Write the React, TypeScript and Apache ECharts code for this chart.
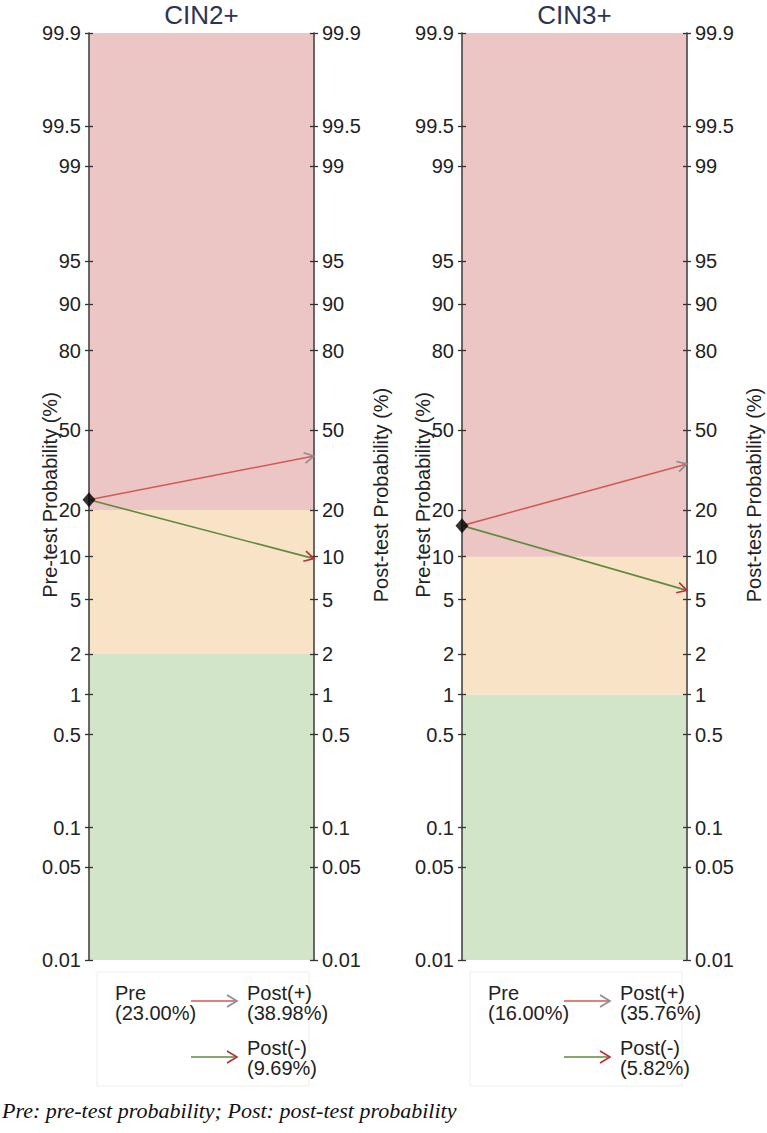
import React, { useEffect, useRef } from "react";
import * as echarts from "echarts";

// ---- data ----
const panelTitles = ["CIN2+", "CIN3+"];
const preProb = [23.0, 16.0];
const postPosProb = [38.98, 35.76];
const postNegProb = [9.69, 5.82];
const redBandFrom = [20, 10];
const greenBandTo = [2, 1];
const tickLabels = ["0.01", "0.05", "0.1", "0.5", "1", "2", "5", "10", "20", "50", "80", "90", "95", "99", "99.5", "99.9"];
const tickProbs = [0.01, 0.05, 0.1, 0.5, 1, 2, 5, 10, 20, 50, 80, 90, 95, 99, 99.5, 99.9];
const axisMinProb = 0.01;
const axisMaxProb = 99.9;

const logit = (p: number) => Math.log(p / (100 - p));
const tickVals = tickProbs.map(logit);
const yMin = logit(axisMinProb);
const yMax = logit(axisMaxProb);

const gridsPx = [
  { left: 89, width: 225 },
  { left: 462, width: 225 },
];
const TOP = 33;
const HEIGHT = 927;

const FONT = "Liberation Sans";
const bandColors = ["#d3e5c8", "#f9e3c6", "#ecc5c5"];
const redLine = "#d25a55";
const greenLine = "#5f8a3e";
const greyHead = "#8c8c8c";
const redHead = "#b3303c";

const fmt = (v: number) => {
  for (let i = 0; i < tickVals.length; i++) {
    if (Math.abs(tickVals[i] - v) < 1e-6) return `{t|${tickLabels[i]}}`;
  }
  return "";
};

function makeYAxes(gi: number) {
  const base = {
    type: "value",
    gridIndex: gi,
    min: yMin,
    max: yMax,
    z: 5,
    splitLine: { show: false },
  };
  const axes: any[] = [];
  for (const pos of ["left", "right"]) {
    axes.push({
      ...base,
      position: pos,
      axisLine: { show: true, lineStyle: { color: "#454545", width: 1.6 } },
      axisTick: { show: true, inside: false, length: 4, customValues: tickVals, lineStyle: { color: "#333", width: 1.3 } },
      axisLabel: {
        show: true,
        customValues: tickVals,
        formatter: fmt,
        margin: 8,
        fontSize: 20,
        fontFamily: FONT,
        color: "#222",
        rich: { t: { fontSize: 20, fontFamily: FONT, color: "#222" } },
      },
    });
    axes.push({
      ...base,
      position: pos,
      axisLine: { show: false },
      axisTick: { show: true, inside: true, length: 4, customValues: tickVals, lineStyle: { color: "#333", width: 1.3 } },
      axisLabel: { show: false, customValues: tickVals },
    });
  }
  return axes;
}

function arrowSeries(gi: number, from: number, to: number, lineColor: string, headColor: string) {
  return {
    type: "custom",
    xAxisIndex: gi,
    yAxisIndex: gi * 4,
    z: 6,
    clip: false,
    silent: true,
    encode: { x: [0, 2], y: [1, 3] },
    data: [[0, logit(from), 1, logit(to)]],
    renderItem: (params: any, api: any) => {
      const p0 = api.coord([api.value(0), api.value(1)]);
      const p1 = api.coord([api.value(2), api.value(3)]);
      const ang = Math.atan2(p1[1] - p0[1], p1[0] - p0[0]);
      const L = 11;
      const a = 0.5;
      const h1 = [p1[0] - L * Math.cos(ang - a), p1[1] - L * Math.sin(ang - a)];
      const h2 = [p1[0] - L * Math.cos(ang + a), p1[1] - L * Math.sin(ang + a)];
      return {
        type: "group",
        children: [
          { type: "line", shape: { x1: p0[0], y1: p0[1], x2: p1[0], y2: p1[1] }, style: { stroke: lineColor, lineWidth: 1.6 } },
          { type: "polyline", shape: { points: [h1, p1, h2] }, style: { stroke: headColor, lineWidth: 1.6, fill: null } },
        ],
      };
    },
  };
}

function bandSeries(gi: number) {
  const lo = logit(greenBandTo[gi]);
  const hi = logit(redBandFrom[gi]);
  return {
    type: "custom",
    xAxisIndex: gi,
    yAxisIndex: gi * 4,
    z: 1,
    silent: true,
    encode: { x: 0, y: [1, 2] },
    data: [
      [0, yMin, lo, 0],
      [0, lo, hi, 1],
      [0, hi, yMax, 2],
    ],
    renderItem: (params: any, api: any) => {
      const a = api.coord([0, api.value(2)]);
      const b = api.coord([1, api.value(1)]);
      return {
        type: "rect",
        shape: { x: a[0], y: a[1], width: b[0] - a[0], height: b[1] - a[1] },
        style: { fill: bandColors[api.value(3)] },
      };
    },
  };
}

function legendGraphics(gi: number) {
  const g = gridsPx[gi];
  const bx = g.left + 8;
  const lx = g.left + 26;
  const ax0 = g.left + 102;
  const ax1 = g.left + 148;
  const tx = g.left + 158;
  const els: any[] = [];
  els.push({ type: "rect", shape: { x: bx, y: 972, width: 212, height: 114 }, style: { fill: null, stroke: "#eeeeee", lineWidth: 1 } });
  const txt = (x: number, y: number, s: string) => ({
    type: "text",
    x,
    y,
    style: { text: s, fontSize: 20, fontFamily: FONT, fill: "#222", lineHeight: 20, verticalAlign: "top" },
  });
  els.push(txt(lx, 983, `Pre\n(${preProb[gi].toFixed(2)}%)`));
  els.push(txt(tx, 983, `Post(+)\n(${postPosProb[gi].toFixed(2)}%)`));
  els.push(txt(tx, 1038, `Post(-)\n(${postNegProb[gi].toFixed(2)}%)`));
  const arrow = (y: number, lc: string, hc: string) => {
    els.push({ type: "line", shape: { x1: ax0, y1: y, x2: ax1, y2: y }, style: { stroke: lc, lineWidth: 1.6 } });
    els.push({ type: "polyline", shape: { points: [[ax1 - 10, y - 6], [ax1, y], [ax1 - 10, y + 6]] }, style: { stroke: hc, lineWidth: 1.6, fill: null } });
  };
  arrow(1001, redLine, greyHead);
  arrow(1057, greenLine, redHead);
  return els;
}

function nameText(x: number, y: number, s: string) {
  return {
    type: "text",
    x,
    y,
    rotation: Math.PI / 2,
    style: { text: s, fontSize: 20, fontFamily: FONT, fill: "#222", align: "center", verticalAlign: "middle" },
  };
}

export default function App() {
  const ref = useRef<HTMLDivElement>(null);
  useEffect(() => {
    if (!ref.current) return;
    const chart = echarts.init(ref.current, null, { renderer: "svg" });
    const grids = gridsPx.map((g) => ({ left: g.left, width: g.width, top: TOP, height: HEIGHT, containLabel: false }));
    const xAxes = gridsPx.map((_, gi) => ({ type: "value", gridIndex: gi, min: 0, max: 1, show: false }));
    const yAxes = [...makeYAxes(0), ...makeYAxes(1)];
    const series: any[] = [];
    gridsPx.forEach((_, gi) => {
      series.push(bandSeries(gi));
      series.push(arrowSeries(gi, preProb[gi], postPosProb[gi], redLine, greyHead));
      series.push(arrowSeries(gi, preProb[gi], postNegProb[gi], greenLine, redHead));
      series.push({
        type: "scatter",
        xAxisIndex: gi,
        yAxisIndex: gi * 4,
        z: 7,
        clip: false,
        silent: true,
        symbol: "diamond",
        symbolSize: [13, 15],
        itemStyle: { color: "#000" },
        data: [[0, logit(preProb[gi])]],
      });
    });
    const graphic: any[] = [];
    gridsPx.forEach((g, gi) => {
      const cx = g.left + g.width / 2;
      graphic.push({
        type: "text",
        x: cx,
        y: 15,
        style: { text: panelTitles[gi], fontSize: 26, fontFamily: FONT, fill: "#2e3352", align: "center", verticalAlign: "middle" },
      });
      graphic.push(nameText(g.left - 39, 495, "Pre-test Probability (%)"));
      graphic.push(nameText(g.left + g.width + 67, 495, "Post-test Probability (%)"));
      graphic.push(...legendGraphics(gi));
    });
    graphic.push({
      type: "text",
      x: 2,
      y: 1110,
      style: {
        text: "Pre: pre-test probability; Post: post-test probability",
        fontSize: 22,
        fontStyle: "italic",
        fontFamily: "Liberation Serif",
        fill: "#111",
        verticalAlign: "middle",
      },
    });
    chart.setOption({
      animation: false,
      backgroundColor: "#fff",
      grid: grids,
      xAxis: xAxes,
      yAxis: yAxes,
      series,
      graphic,
    });
    return () => chart.dispose();
  }, []);
  return <div ref={ref} style={{ position: "absolute", left: 0, top: 0, width: 767, height: 1133 }} />;
}
